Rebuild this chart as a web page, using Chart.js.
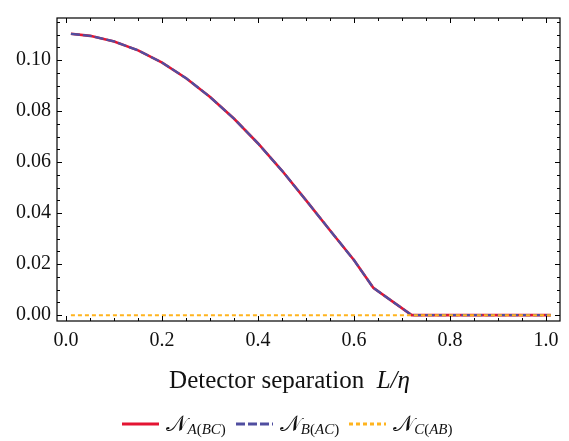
<!DOCTYPE html>
<html>
<head>
<meta charset="utf-8">
<script src="https://cdn.jsdelivr.net/npm/chart.js@4/dist/chart.umd.min.js"></script>
<style>
  body { margin: 0; background: #fff; }
  #wrap { position: relative; width: 569px; height: 441px; }
  #legend { position: absolute; left: 8px; top: 411px; width: 569px; display: flex; justify-content: center; align-items: center; font-family: "Liberation Serif", serif; color: #111; }
  .item { display: flex; align-items: center; margin: 0 10px 0 0; }
  .item svg { margin-right: 7px; }
  .N { font-size: 22px; font-family: "DejaVu Serif", "Liberation Serif", serif; }
  .sub { font-size: 15px; position: relative; top: 6px; }
  .sub i { font-style: italic; }
</style>
</head>
<body>
<div id="wrap">
  <canvas id="chart" width="569" height="441"></canvas>
  <div id="legend"></div>
</div>
<script>
// detector separation L/eta
var sepValues = [0.01, 0.05, 0.10, 0.15, 0.20, 0.25, 0.30, 0.35, 0.40, 0.45, 0.50, 0.55, 0.60, 0.64, 0.72, 0.80, 0.90, 1.00, 1.01]
// negativities
var negA = [0.1103, 0.1095, 0.1073, 0.1038, 0.0990, 0.0929, 0.0855, 0.0770, 0.0673, 0.0566, 0.0450, 0.0332, 0.0215, 0.0107, 0.0, 0.0, 0.0, 0.0, 0.0]
var negB = [0.1103, 0.1095, 0.1073, 0.1038, 0.0990, 0.0929, 0.0855, 0.0770, 0.0673, 0.0566, 0.0450, 0.0332, 0.0215, 0.0107, 0.0, 0.0, 0.0, 0.0, 0.0]
var negC = [0, 0, 0, 0, 0, 0, 0, 0, 0, 0, 0, 0, 0, 0, 0, 0, 0, 0, 0]

var xTicks = [0.0, 0.2, 0.4, 0.6, 0.8, 1.0]
var yTicks = [0.00, 0.02, 0.04, 0.06, 0.08, 0.10]
var seriesNames = [["A", "BC"], ["B", "AC"], ["C", "AB"]]

function pts(ys) {
    return sepValues.map(function(x, i) { return {x: x, y: ys[i]} })
}

var tickFont = {family: "Liberation Serif", size: 20}

// frame + inward ticks on all four sides
var frameTicks = {
    id: 'frameTicks',
    afterDraw: function(chart) {
        var ctx = chart.ctx, a = chart.chartArea
        var xs = chart.scales.x, ys = chart.scales.y
        ctx.save()
        ctx.strokeStyle = '#000'
        ctx.lineWidth = 1.2
        ctx.strokeRect(a.left, a.top, a.right - a.left, a.bottom - a.top)
        ctx.lineWidth = 1
        ctx.beginPath()
        for (var i = 0; i <= 20; i++) {
            var v = i * 0.05
            var px = Math.round(xs.getPixelForValue(v)) + 0.5
            var len = (i % 4 == 0) ? 5 : 3
            ctx.moveTo(px, a.bottom); ctx.lineTo(px, a.bottom - len)
            ctx.moveTo(px, a.top); ctx.lineTo(px, a.top + len)
        }
        for (var j = 0; j <= 23; j++) {
            var w = j * 0.005
            var py = Math.round(ys.getPixelForValue(w)) + 0.5
            var l2 = (j % 4 == 0) ? 5 : 3
            ctx.moveTo(a.left, py); ctx.lineTo(a.left + l2, py)
            ctx.moveTo(a.right, py); ctx.lineTo(a.right - l2, py)
        }
        ctx.stroke()
        // x axis title
        var cx = (a.left + a.right) / 2 - 19, cy = 381
        var t1 = "Detector separation  ", t2 = "L/\u03b7"
        ctx.fillStyle = '#111'
        ctx.textBaseline = 'middle'
        ctx.font = '25px "Liberation Serif"'
        var w1 = ctx.measureText(t1).width
        ctx.font = 'italic 25px "Liberation Serif"'
        var w2 = ctx.measureText(t2).width
        var x0 = cx - (w1 + w2) / 2
        ctx.font = '25px "Liberation Serif"'
        ctx.textAlign = 'left'
        ctx.fillText(t1, x0, cy)
        ctx.font = 'italic 25px "Liberation Serif"'
        ctx.fillText(t2, x0 + w1, cy)
        ctx.restore()
    }
}

var ctx = document.getElementById("chart").getContext('2d')
var chart = new Chart(ctx, {
    type: 'line',
    data: {
        datasets: [
            {
                label: "N_A(BC)",
                data: pts(negA),
                borderColor: 'rgb(228, 20, 50)',
                borderWidth: 2.6,
                pointRadius: 0,
                order: 3
            },
            {
                label: "N_B(AC)",
                data: pts(negB),
                borderColor: 'rgb(80, 78, 160)',
                borderWidth: 2.3,
                borderDash: [9, 3],
                pointRadius: 0,
                order: 2
            },
            {
                label: "N_C(AB)",
                data: pts(negC),
                borderColor: 'rgb(255, 180, 30)',
                borderWidth: 2,
                borderDash: [4, 3],
                pointRadius: 0,
                order: 1
            }
        ]
    },
    options: {
        responsive: false,
        animation: false,
        layout: {padding: {top: 8, right: 9, left: 0, bottom: 0}},
        plugins: {legend: {display: false}, tooltip: {enabled: false}},
        scales: {
            x: {
                type: 'linear',
                min: -0.019,
                max: 1.029,
                grid: {display: false, drawTicks: false},
                border: {display: false},
                afterBuildTicks: function(s) { s.ticks = xTicks.map(function(v) { return {value: v} }) },
                afterFit: function(s) { s.height = 120 },
                ticks: {
                    font: tickFont, color: '#111', padding: 8, maxRotation: 0,
                    callback: function(v) { return v.toFixed(1) }
                }
            },
            y: {
                type: 'linear',
                min: -0.0023,
                max: 0.1165,
                grid: {display: false, drawTicks: false},
                border: {display: false},
                afterBuildTicks: function(s) { s.ticks = yTicks.map(function(v) { return {value: v} }) },
                afterFit: function(s) { s.width = 57 },
                ticks: {
                    font: tickFont, color: '#111', padding: 6,
                    callback: function(v) { return v.toFixed(2) }
                }
            }
        }
    },
    plugins: [frameTicks]
})

// legend with subscripts, built from the datasets
var leg = document.getElementById("legend")
chart.data.datasets.forEach(function(ds, i) {
    var dash = ds.borderDash ? ds.borderDash.join(',') : 'none'
    var it = document.createElement('div')
    it.className = 'item'
    it.innerHTML = '<svg width="37" height="10"><line x1="0" y1="5" x2="37" y2="5" stroke="' + ds.borderColor +
        '" stroke-width="3" stroke-dasharray="' + dash + '"/></svg>' +
        '<span class="N">\uD835\uDCA9</span><span class="sub"><i>' + seriesNames[i][0] + '</i>(<i>' +
        seriesNames[i][1] + '</i>)</span>'
    leg.appendChild(it)
})
</script>
</body>
</html>
